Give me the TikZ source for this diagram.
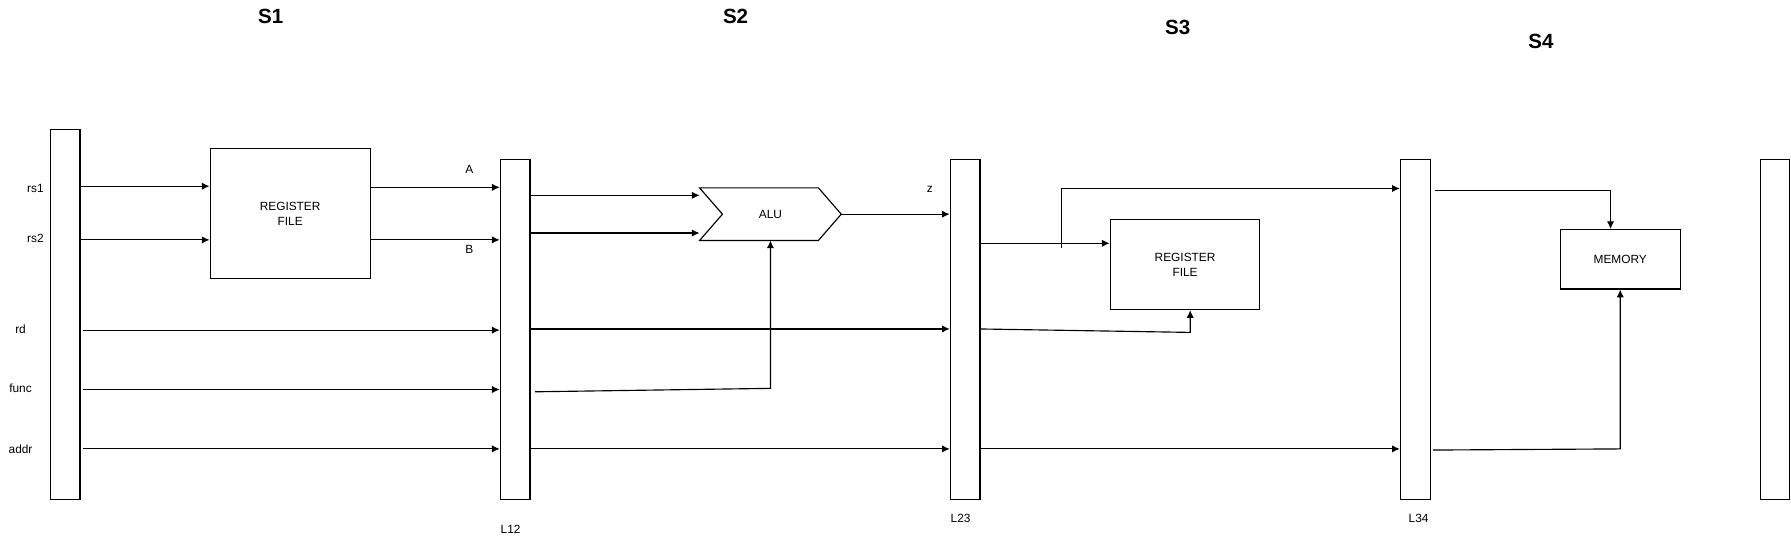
\documentclass[tikz,border=0pt]{standalone}
\usepackage{fontspec}
\setmainfont{Liberation Sans}
\usetikzlibrary{arrows.meta}

\begin{document}
\begin{tikzpicture}[x=0.5pt,y=-0.5pt,line width=0.5pt,
    latch/.style={draw,minimum width=13pt,minimum height=148.5pt,inner sep=0pt},
    unit/.style={draw,align=center,inner sep=0pt,font=\fontsize{5.2}{6.5}\selectfont},
    lbl/.style={inner sep=0pt,font=\fontsize{5.2}{6.5}\selectfont},
    stage/.style={inner sep=0pt,font=\fontsize{9}{10}\selectfont\bfseries},
    wire/.style={-{Latex[length=3.4pt,width=3.2pt]}}]
    \useasboundingbox (0,0) rectangle (1568,473);
    % stages
    \node[stage] (s1) at (237,14) {S1};
    \node[stage] (s2) at (644,14) {S2};
    \node[stage] (s3) at (1031,24) {S3};
    \node[stage] (s4) at (1349,36) {S4};
    % latches
    \node[latch,minimum height=162pt] (L0) at (57,275) {};
    \node[latch] (L12) at (451,288.5) {};
    \node[latch] (L23) at (845,288.5) {};
    \node[latch] (L34) at (1239,288.5) {};
    \node[latch] (L45) at (1554,288.5) {};
    \node[lbl] (tL12) at (447,463) {L12};
    \node[lbl] (tL23) at (841,454) {L23};
    \node[lbl] (tL34) at (1242,454) {L34};
    % units
    \node[unit,minimum width=70pt,minimum height=57pt] (rf1) at (254,187) {REGISTER\\FILE};
    \node[lbl,minimum width=61.5pt,minimum height=22.5pt] (alu) at (674.5,187.5) {ALU};
    \draw (alu.north west) -- ([xshift=-10pt]alu.north east) -- (alu.east) -- ([xshift=-10pt]alu.south east) -- (alu.south west) -- ([xshift=10pt]alu.west) -- cycle;
    \node[unit,minimum width=65.5pt,minimum height=39.5pt] (rf2) at (1037.5,231.5) {REGISTER\\FILE};
    \node[unit,minimum width=52.5pt,minimum height=26pt] (mem) at (1418.5,227) {MEMORY};
    % signal names
    \node[lbl] (trs1) at (31,165) {rs1};
    \node[lbl] (trs2) at (31,209) {rs2};
    \node[lbl] (trd) at (18,288) {rd};
    \node[lbl] (tfunc) at (18,340) {func};
    \node[lbl] (taddr) at (18,393) {addr};
    \node[lbl] (tA) at (411,148) {A};
    \node[lbl] (tB) at (411,218) {B};
    \node[lbl] (tz) at (814,166) {z};
    % stage 1
    \draw[wire] (L0.east |- 0,163) -- (rf1.west |- 0,163);
    \draw[wire] (L0.east |- 0,210) -- (rf1.west |- 0,210);
    \draw[wire] (rf1.east |- 0,164) -- (L12.west |- 0,164);
    \draw[wire] (rf1.east |- 0,210) -- (L12.west |- 0,210);
    \foreach \y in {289,341,393}
        \draw[wire] (L0.east |- 0,\y) ++(2,0) -- (L12.west |- 0,\y);
    % stage 2
    \draw[wire] (L12.east |- 0,171) -- (alu.west |- 0,171);
    \draw[wire] (L12.east |- 0,204) -- (alu.west |- 0,204);
    \draw[wire] (alu.east) -- (L23.west |- alu.east);
    \draw[wire] (L12.east |- 0,343) ++(4,0) -- (alu.south |- 0,340) -- (alu.south);
    \foreach \y in {288,393}
        \draw[wire] (L12.east |- 0,\y) -- (L23.west |- 0,\y);
    % stage 3
    \coordinate (tap) at (929,217);
    \coordinate (rfin) at ([xshift=2.25pt]rf2.south);
    \draw[wire] (L23.east |- 0,213) -- (rf2.west |- 0,213);
    \draw[wire] (tap) |- (L34.west |- 0,165);
    \draw[wire] (L23.east |- 0,288) -- (rfin |- 0,291) -- (rfin);
    \draw[wire] (L23.east |- 0,393) -- (L34.west |- 0,393);
    % stage 4
    \draw[wire] (L34.east |- 0,167) ++(4,0) -| ([xshift=-4.25pt]mem.north);
    \draw[wire] (L34.east |- 0,394) ++(2,0) -- (mem.south |- 0,393) -- (mem.south);
\end{tikzpicture}
\end{document}
